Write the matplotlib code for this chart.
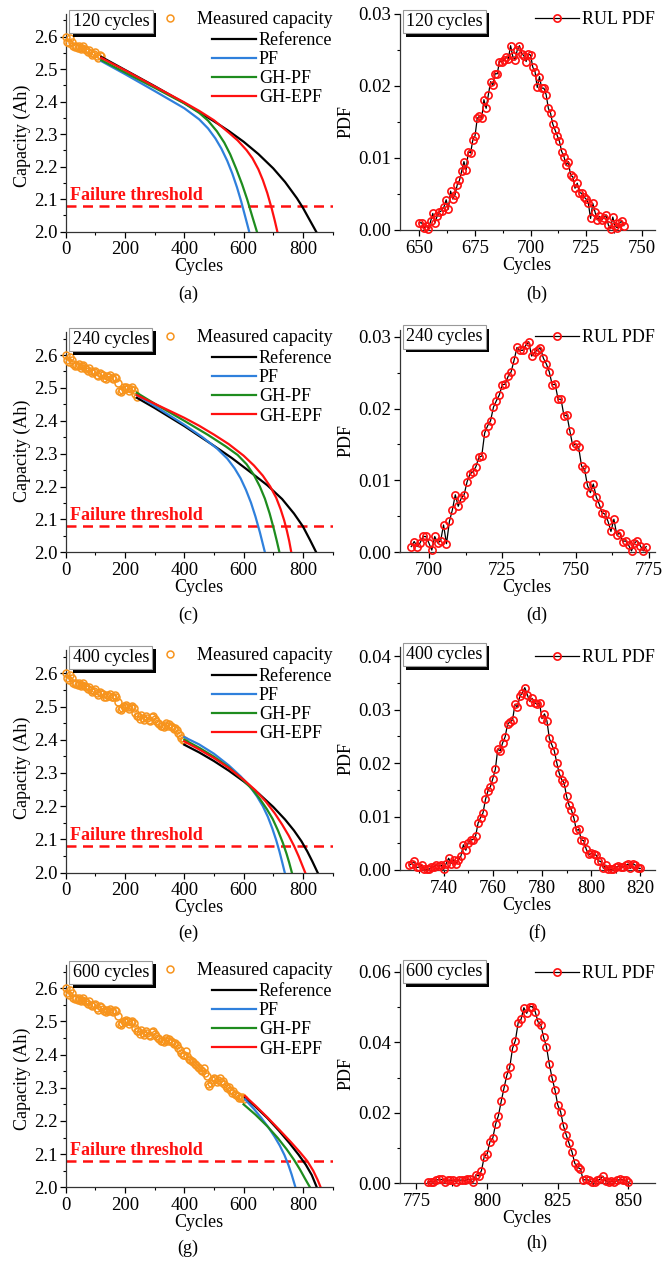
import numpy as np
import matplotlib
matplotlib.use('Agg')
import matplotlib.pyplot as plt
import matplotlib.patheffects as pe
from matplotlib.lines import Line2D
from matplotlib.ticker import MultipleLocator, FormatStrFormatter

plt.rcParams['font.family'] = ['Liberation Serif', 'DejaVu Serif']
plt.rcParams['font.size'] = 13
plt.rcParams['xtick.labelsize'] = 13.5
plt.rcParams['ytick.labelsize'] = 13.5

W, H = 671, 1263

# measured capacity, one point every 5 cycles (0..600)
meas_step = 5
meas_cap = [
    2.600, 2.585, 2.580, 2.595, 2.585, 2.572, 2.568, 2.570, 2.566, 2.572,
    2.562, 2.566, 2.570, 2.562, 2.558, 2.552, 2.560, 2.550, 2.545, 2.548,
    2.552, 2.540, 2.535, 2.545, 2.542, 2.538, 2.530, 2.528, 2.535, 2.532,
    2.538, 2.530, 2.528, 2.534, 2.530, 2.515, 2.492, 2.488, 2.495, 2.502,
    2.498, 2.504, 2.500, 2.492, 2.498, 2.502, 2.495, 2.480, 2.472, 2.470,
    2.462, 2.475, 2.465, 2.458, 2.470, 2.465, 2.460, 2.455, 2.468, 2.470,
    2.462, 2.455, 2.450, 2.448, 2.440, 2.442, 2.438, 2.445, 2.450, 2.442,
    2.448, 2.440, 2.438, 2.432, 2.435, 2.430, 2.420, 2.415, 2.405, 2.398,
    2.400, 2.410, 2.395, 2.388, 2.385, 2.380, 2.378, 2.372, 2.368, 2.362,
    2.360, 2.355, 2.352, 2.360, 2.345, 2.335, 2.310, 2.305, 2.315, 2.322,
    2.330, 2.325, 2.318, 2.322, 2.330, 2.318, 2.320, 2.310, 2.305, 2.300,
    2.302, 2.292, 2.285, 2.290, 2.282, 2.278, 2.275, 2.270, 2.268, 2.272,
    2.265]
meas_cycles = np.arange(len(meas_cap)) * meas_step
threshold = 2.08

# predictions from 120 cycles
ref_a_x = [120, 200, 300, 400, 500, 550, 600, 650, 700, 740, 780, 800, 820, 845]
ref_a_y = [2.538, 2.498, 2.448, 2.396, 2.340, 2.310, 2.277, 2.239, 2.195, 2.153, 2.103, 2.074, 2.041, 2.000]
pf_a_x = [120, 200, 300, 400, 450, 480, 505, 525, 545, 562, 578, 592, 606, 619]
pf_a_y = [2.525, 2.485, 2.433, 2.380, 2.346, 2.318, 2.287, 2.256, 2.218, 2.179, 2.136, 2.093, 2.045, 2.000]
ghpf_a_x = [120, 200, 300, 400, 450, 480, 510, 535, 555, 575, 595, 612, 629, 645]
ghpf_a_y = [2.528, 2.490, 2.443, 2.395, 2.366, 2.342, 2.309, 2.274, 2.238, 2.194, 2.146, 2.100, 2.048, 2.000]
ghepf_a_x = [120, 200, 300, 400, 450, 500, 550, 580, 610, 630, 650, 665, 680, 695, 705, 714]
ghepf_a_y = [2.535, 2.497, 2.447, 2.398, 2.372, 2.343, 2.305, 2.281, 2.251, 2.226, 2.192, 2.159, 2.119, 2.071, 2.035, 2.000]

# predictions from 240 cycles
ref_c_x = [240, 300, 400, 500, 560, 620, 680, 730, 770, 800, 825, 845]
ref_c_y = [2.470, 2.439, 2.384, 2.324, 2.287, 2.246, 2.204, 2.162, 2.118, 2.079, 2.036, 2.000]
pf_c_x = [240, 300, 400, 460, 510, 545, 570, 590, 608, 625, 640, 655, 672]
pf_c_y = [2.478, 2.445, 2.388, 2.351, 2.316, 2.285, 2.255, 2.225, 2.190, 2.151, 2.109, 2.061, 2.000]
ghpf_c_x = [240, 300, 400, 480, 540, 580, 610, 635, 655, 672, 688, 703, 712, 721]
ghpf_c_y = [2.485, 2.452, 2.400, 2.357, 2.322, 2.296, 2.268, 2.235, 2.200, 2.163, 2.118, 2.068, 2.035, 2.000]
ghepf_c_x = [240, 300, 400, 450, 500, 550, 600, 635, 665, 690, 710, 725, 737, 746, 754, 761]
ghepf_c_y = [2.478, 2.452, 2.409, 2.385, 2.358, 2.329, 2.294, 2.264, 2.233, 2.200, 2.166, 2.131, 2.097, 2.066, 2.034, 2.000]

# predictions from 400 cycles
ref_e_x = [400, 450, 500, 550, 600, 650, 700, 740, 770, 795, 815, 832, 850]
ref_e_y = [2.385, 2.362, 2.336, 2.307, 2.275, 2.239, 2.198, 2.160, 2.127, 2.095, 2.064, 2.034, 2.000]
pf_e_x = [400, 450, 500, 550, 590, 620, 645, 665, 682, 697, 710, 721, 731, 739]
pf_e_y = [2.408, 2.386, 2.358, 2.323, 2.290, 2.261, 2.230, 2.200, 2.168, 2.133, 2.098, 2.064, 2.029, 2.000]
ghpf_e_x = [400, 450, 500, 550, 600, 630, 655, 678, 698, 716, 732, 745, 754, 763]
ghpf_e_y = [2.400, 2.376, 2.349, 2.317, 2.278, 2.250, 2.222, 2.192, 2.162, 2.127, 2.091, 2.057, 2.030, 2.000]
ghepf_e_x = [400, 450, 500, 550, 600, 640, 675, 705, 730, 752, 770, 786, 799, 808]
ghepf_e_y = [2.395, 2.371, 2.345, 2.315, 2.280, 2.248, 2.214, 2.179, 2.145, 2.112, 2.081, 2.049, 2.020, 2.000]

# predictions from 600 cycles
ref_g_x = [605, 640, 680, 720, 755, 785, 810, 830, 847]
ref_g_y = [2.270, 2.243, 2.209, 2.170, 2.133, 2.099, 2.068, 2.037, 2.000]
pf_g_x = [605, 635, 660, 685, 705, 722, 738, 751, 762, 772, 775]
pf_g_y = [2.265, 2.236, 2.209, 2.179, 2.152, 2.126, 2.097, 2.068, 2.039, 2.009, 2.000]
ghpf_g_x = [600, 640, 680, 715, 745, 770, 790, 808, 824]
ghpf_g_y = [2.250, 2.219, 2.184, 2.149, 2.115, 2.083, 2.054, 2.025, 2.000]
ghepf_g_x = [605, 640, 680, 720, 760, 790, 815, 835, 850, 860]
ghepf_g_y = [2.275, 2.246, 2.211, 2.174, 2.136, 2.106, 2.079, 2.050, 2.022, 2.000]

# RUL PDFs, one value per cycle starting at pdf_*_start
pdf_b_start = 650
pdf_b = [
    0.0010, 0.0010, 0.0003, 0.0006, 0.0002, 0.0012, 0.0023, 0.0010, 0.0020, 0.0025,
    0.0027, 0.0032, 0.0042, 0.0029, 0.0054, 0.0043, 0.0049, 0.0063, 0.0069, 0.0082,
    0.0095, 0.0084, 0.0109, 0.0107, 0.0125, 0.0131, 0.0155, 0.0158, 0.0155, 0.0181,
    0.0169, 0.0188, 0.0206, 0.0201, 0.0217, 0.0217, 0.0234, 0.0234, 0.0236, 0.0240,
    0.0238, 0.0256, 0.0241, 0.0236, 0.0250, 0.0256, 0.0245, 0.0242, 0.0234, 0.0244,
    0.0243, 0.0226, 0.0220, 0.0198, 0.0213, 0.0197, 0.0197, 0.0188, 0.0169, 0.0162,
    0.0147, 0.0139, 0.0131, 0.0123, 0.0109, 0.0102, 0.0090, 0.0095, 0.0076, 0.0074,
    0.0058, 0.0065, 0.0052, 0.0051, 0.0046, 0.0043, 0.0037, 0.0016, 0.0037, 0.0025,
    0.0014, 0.0019, 0.0014, 0.0017, 0.0021, 0.0007, 0.0002, 0.0018, 0.0006, 0.0003,
    0.0010, 0.0012, 0.0006]
pdf_d_start = 694
pdf_d = [
    0.0008, 0.0015, 0.0008, 0.0013, 0.0022, 0.0022, 0.0013, 0.0003, 0.0022, 0.0013,
    0.0016, 0.0038, 0.0012, 0.0043, 0.0059, 0.0080, 0.0064, 0.0075, 0.0080, 0.0098,
    0.0109, 0.0112, 0.0119, 0.0132, 0.0134, 0.0166, 0.0176, 0.0183, 0.0202, 0.0211,
    0.0219, 0.0233, 0.0234, 0.0245, 0.0251, 0.0267, 0.0285, 0.0281, 0.0281, 0.0288,
    0.0293, 0.0273, 0.0278, 0.0282, 0.0284, 0.0270, 0.0262, 0.0251, 0.0233, 0.0234,
    0.0213, 0.0213, 0.0190, 0.0191, 0.0169, 0.0148, 0.0151, 0.0146, 0.0120, 0.0116,
    0.0093, 0.0083, 0.0095, 0.0077, 0.0067, 0.0055, 0.0053, 0.0043, 0.0029, 0.0046,
    0.0024, 0.0027, 0.0015, 0.0016, 0.0010, 0.0002, 0.0013, 0.0016, 0.0009, 0.0002,
    0.0008]
pdf_f_start = 726
pdf_f = [
    0.0009, 0.0012, 0.0016, 0.0005, 0.0005, 0.0009, 0.0001, 0.0001, 0.0001, 0.0005,
    0.0006, 0.0009, 0.0007, 0.0009, 0.0001, 0.0012, 0.0022, 0.0012, 0.0019, 0.0012,
    0.0019, 0.0026, 0.0047, 0.0037, 0.0051, 0.0056, 0.0057, 0.0064, 0.0088, 0.0098,
    0.0107, 0.0132, 0.0148, 0.0156, 0.0171, 0.0188, 0.0226, 0.0223, 0.0238, 0.0249,
    0.0273, 0.0277, 0.0280, 0.0310, 0.0304, 0.0325, 0.0331, 0.0341, 0.0328, 0.0315,
    0.0321, 0.0313, 0.0310, 0.0312, 0.0283, 0.0292, 0.0279, 0.0246, 0.0234, 0.0223,
    0.0201, 0.0181, 0.0169, 0.0163, 0.0138, 0.0121, 0.0112, 0.0097, 0.0074, 0.0076,
    0.0056, 0.0055, 0.0039, 0.0029, 0.0031, 0.0029, 0.0028, 0.0017, 0.0016, 0.0003,
    0.0009, 0.0001, 0.0001, 0.0001, 0.0005, 0.0007, 0.0006, 0.0005, 0.0009, 0.0011,
    0.0003, 0.0012, 0.0009, 0.0003, 0.0003]
pdf_h_start = 779
pdf_h = [
    0.0003, 0.0005, 0.0003, 0.0009, 0.0011, 0.0011, 0.0005, 0.0008, 0.0009, 0.0008,
    0.0005, 0.0009, 0.0009, 0.0008, 0.0011, 0.0011, 0.0003, 0.0024, 0.0021, 0.0036,
    0.0076, 0.0083, 0.0118, 0.0128, 0.0168, 0.0192, 0.0233, 0.0271, 0.0307, 0.0329,
    0.0383, 0.0405, 0.0456, 0.0465, 0.0498, 0.0482, 0.0501, 0.0501, 0.0487, 0.0458,
    0.0449, 0.0414, 0.0387, 0.0338, 0.0298, 0.0265, 0.0222, 0.0203, 0.0163, 0.0137,
    0.0113, 0.0090, 0.0057, 0.0045, 0.0041, 0.0009, 0.0011, 0.0009, 0.0003, 0.0005,
    0.0009, 0.0011, 0.0020, 0.0006, 0.0003, 0.0006, 0.0003, 0.0008, 0.0011, 0.0010,
    0.0008, 0.0003]

ORANGE = '#F7941D'
C_REF, C_PF, C_GHPF, C_GHEPF = 'black', '#2F80DC', '#1E8C1E', '#FF1010'


def add_axes(l, r, t, b):
    return fig.add_axes([l / W, 1 - b / H, (r - l) / W, (b - t) / H])


def style(ax):
    for s in ('top', 'right'):
        ax.spines[s].set_visible(False)
    for s in ('left', 'bottom'):
        ax.spines[s].set_linewidth(0.9)
        ax.spines[s].set_color('#333333')
    ax.tick_params(which='major', direction='out', length=4, width=0.9, pad=2)
    ax.tick_params(which='minor', direction='out', length=2.5, width=0.8)
    ax.tick_params(axis='x', pad=3)


def tag_box(ax, text):
    t = ax.text(0.026, 1.005, text, transform=ax.transAxes, ha='left', va='top',
                bbox=dict(boxstyle='square,pad=0.18', fc='white', ec='#999999', lw=0.8),
                zorder=10)
    t.get_bbox_patch().set_path_effects(
        [pe.SimplePatchShadow(offset=(2.5, -2.5), shadow_rgbFace='black', alpha=1.0),
         pe.Normal()])


def frac(ax, px):
    # pixels below the top of the axes -> axes fraction
    return 1 - px / (ax.get_position().height * H)


def cap_panel(ax, start, label, curves, ylab_y):
    style(ax)
    keep = meas_cycles <= start
    ax.plot(meas_cycles[keep], np.array(meas_cap)[keep], 'o', ms=5, mfc='none',
            mec=ORANGE, mew=1.1, zorder=3, clip_on=False)
    handles = []
    for (x, y), c, name in zip(curves, [C_REF, C_PF, C_GHPF, C_GHEPF],
                               ['Reference', 'PF', 'GH-PF', 'GH-EPF']):
        ln, = ax.plot(x, y, color=c, lw=1.6, label=name, zorder=4,
                      solid_joinstyle='round')
        handles.append(ln)
    ax.axhline(threshold, color='#FF1010', lw=1.8, ls=(0, (4, 2.6)), zorder=2)
    ax.text(15, threshold + 0.006, 'Failure threshold', color='#FF1010',
            fontweight='bold', ha='left', va='bottom')
    ax.set_xlim(0, 900)
    ax.set_ylim(2.0, 2.67)
    ax.xaxis.set_major_locator(MultipleLocator(200))
    ax.xaxis.set_minor_locator(MultipleLocator(100))
    ax.yaxis.set_major_locator(MultipleLocator(0.1))
    ax.yaxis.set_minor_locator(MultipleLocator(0.05))
    ax.yaxis.set_major_formatter(FormatStrFormatter('%.1f'))
    ax.set_xlabel('Cycles', labelpad=0)
    ax.set_ylabel('Capacity (Ah)', labelpad=3)
    ax.yaxis.set_label_coords(-0.13, ylab_y)
    m = Line2D([], [], ls='none', marker='o', ms=5, mfc='none', mec=ORANGE, mew=1.1)
    leg1 = ax.legend([m], ['Measured capacity'], loc='upper right',
                     bbox_to_anchor=(1.0, frac(ax, -3)), frameon=False,
                     borderpad=0, borderaxespad=0, handlelength=1.0,
                     handletextpad=1.0)
    ax.add_artist(leg1)
    ax.legend(handles=handles, loc='upper right', bbox_to_anchor=(1.0, frac(ax, 18)),
              frameon=False, borderpad=0, borderaxespad=0, handlelength=2.45,
              handletextpad=0.15, labelspacing=0.12)
    tag_box(ax, label)


def pdf_panel(ax, start, vals, label, xlim, ylim, xmaj, ymaj, leg_px):
    style(ax)
    x = np.arange(len(vals)) + start
    ax.plot(x, vals, '-', color='black', lw=0.9, marker='o', ms=5.2, mfc='none',
            mec='#FF1010', mew=1.2, label='RUL PDF', clip_on=False, zorder=3)
    ax.set_xlim(*xlim)
    ax.set_ylim(*ylim)
    ax.xaxis.set_major_locator(MultipleLocator(xmaj))
    ax.xaxis.set_minor_locator(MultipleLocator(xmaj / 2))
    ax.yaxis.set_major_locator(MultipleLocator(ymaj))
    ax.yaxis.set_minor_locator(MultipleLocator(ymaj / 2))
    ax.yaxis.set_major_formatter(FormatStrFormatter('%.2f'))
    ax.set_xlabel('Cycles', labelpad=0)
    ax.set_ylabel('PDF', labelpad=3)
    ax.legend(loc='upper right', bbox_to_anchor=(1.0, frac(ax, leg_px)), frameon=False,
              borderpad=0, borderaxespad=0, handlelength=2.4, handletextpad=0.2)
    tag_box(ax, label)


fig = plt.figure(figsize=(W / 100, H / 100), dpi=100)

L0, R0 = 65.7, 332.5
L1, R1 = 399.5, 655

ax_a = add_axes(L0, R0, 14, 231.7)
ax_c = add_axes(L0, R0, 332, 552.3)
ax_e = add_axes(L0, R0, 650, 872.7)
ax_g = add_axes(L0, R0, 965, 1187.3)

cap_panel(ax_a, 120, '120 cycles', [(ref_a_x, ref_a_y), (pf_a_x, pf_a_y),
                                    (ghpf_a_x, ghpf_a_y), (ghepf_a_x, ghepf_a_y)], 0.44)
cap_panel(ax_c, 240, '240 cycles', [(ref_c_x, ref_c_y), (pf_c_x, pf_c_y),
                                    (ghpf_c_x, ghpf_c_y), (ghepf_c_x, ghepf_c_y)], 0.46)
cap_panel(ax_e, 400, '400 cycles', [(ref_e_x, ref_e_y), (pf_e_x, pf_e_y),
                                    (ghpf_e_x, ghpf_e_y), (ghepf_e_x, ghepf_e_y)], 0.47)
cap_panel(ax_g, 600, '600 cycles', [(ref_g_x, ref_g_y), (pf_g_x, pf_g_y),
                                    (ghpf_g_x, ghpf_g_y), (ghepf_g_x, ghepf_g_y)], 0.49)

ax_b = add_axes(L1, R1, 14, 230)
ax_d = add_axes(L1, R1, 329.5, 552.3)
ax_f = add_axes(L1, R1, 647, 870)
ax_h = add_axes(L1, R1, 964, 1183.3)

pdf_panel(ax_b, pdf_b_start, pdf_b, '120 cycles', (641, 756), (0, 0.03), 25, 0.01, -3)
pdf_panel(ax_d, pdf_d_start, pdf_d, '240 cycles', (690, 777), (0, 0.031), 25, 0.01, 0)
pdf_panel(ax_f, pdf_f_start, pdf_f, '400 cycles', (722, 826), (0, 0.0417), 20, 0.01, 2)
pdf_panel(ax_h, pdf_h_start, pdf_h, '600 cycles', (769, 859.4), (0, 0.0622), 25, 0.02, 1)

for txt, x, y in [('(a)', 188, 294), ('(b)', 537, 294), ('(c)', 188, 615), ('(d)', 537, 615),
                  ('(e)', 188, 933), ('(f)', 537, 933), ('(g)', 188, 1248), ('(h)', 537, 1243)]:
    fig.text(x / W, 1 - y / H, txt, ha='center', va='center')

fig.savefig('out.png', dpi=100)
